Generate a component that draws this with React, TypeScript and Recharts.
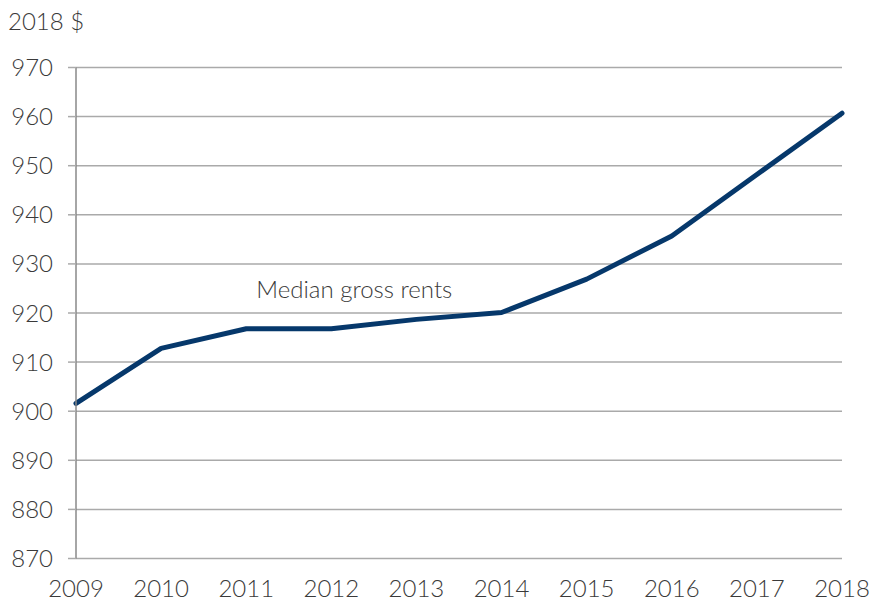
import { LineChart, Line, XAxis, YAxis, CartesianGrid, ReferenceDot } from "recharts";

const years = [2009, 2010, 2011, 2012, 2013, 2014, 2015, 2016, 2017, 2018];
const medianRents = [901.6, 912.8, 916.8, 916.8, 918.7, 920.1, 926.9, 935.7, 948.2, 960.7];
const yTicks = [870, 880, 890, 900, 910, 920, 930, 940, 950, 960, 970];

const data = years.map((year, i) => ({ year, rent: medianRents[i] }));

const font = "Lato, 'Open Sans', sans-serif";
const textColor = "#3a3a3a";

export default function App() {
  return (
    <div style={{ position: "absolute", left: 0, top: 0, width: 871, height: 602, background: "#fff" }}>
      <div
        style={{
          position: "absolute",
          left: 8,
          top: 6,
          fontFamily: font,
          fontSize: 24,
          fontWeight: 300,
          color: textColor,
        }}
      >
        2018 $
      </div>
      <LineChart width={871} height={602} data={data} margin={{ top: 67.5, right: 29, bottom: 0, left: 0 }}>
        <CartesianGrid vertical={false} stroke="#aaaaaa" strokeWidth={1.5} />
        <XAxis
          dataKey="year"
          type="number"
          domain={[2009, 2018]}
          ticks={years}
          axisLine={false}
          tickLine={false}
          tickMargin={15}
          height={43.5}
          tick={{ fill: textColor, fontSize: 24, fontFamily: font, fontWeight: 300 }}
        />
        <YAxis
          domain={[870, 970]}
          ticks={yTicks}
          width={76}
          tickSize={8}
          tickMargin={15}
          axisLine={{ stroke: "#888888", strokeWidth: 1.5 }}
          tickLine={{ stroke: "#aaaaaa", strokeWidth: 1.5 }}
          tick={{ fill: textColor, fontSize: 24, fontFamily: font, fontWeight: 300 }}
        />
        <Line
          dataKey="rent"
          stroke="#06386b"
          strokeWidth={5}
          dot={false}
          strokeLinejoin="round"
          strokeLinecap="round"
          isAnimationActive={false}
        />
        <ReferenceDot
          x={2012.27}
          y={924.7}
          r={0}
          fill="none"
          stroke="none"
          label={{
            value: "Median gross rents",
            position: "center",
            fill: textColor,
            fontSize: 24,
            fontFamily: font,
            fontWeight: 300,
          }}
        />
      </LineChart>
    </div>
  );
}
